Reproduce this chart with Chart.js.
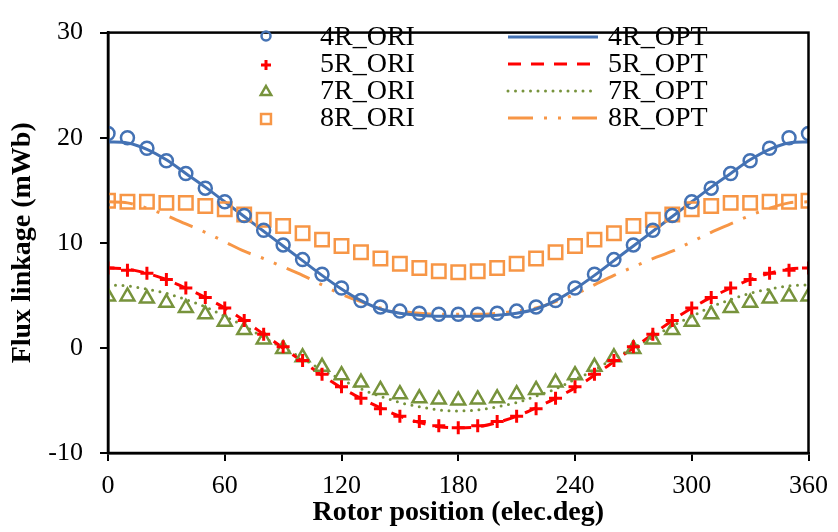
<!DOCTYPE html>
<html>
<head>
<meta charset="utf-8">
<script src="https://cdn.jsdelivr.net/npm/chart.js@4.4.1/dist/chart.umd.min.js"></script>
<style>
  body { margin: 0; background: #fff; }
  canvas { display: block; }
</style>
</head>
<body>
<canvas id="fluxChart" width="838" height="532"></canvas>
<script>
const angles = [0, 10, 20, 30, 40, 50, 60, 70, 80, 90, 100, 110, 120, 130, 140, 150, 160, 170, 180,
    190, 200, 210, 220, 230, 240, 250, 260, 270, 280, 290, 300, 310, 320, 330, 340, 350, 360];

const ori4R = [20.4, 20.0, 19.0, 17.8, 16.6, 15.2, 13.9, 12.6, 11.2, 9.8, 8.4, 7.0, 5.7, 4.5, 3.9, 3.5, 3.3, 3.2, 3.2,
    3.2, 3.3, 3.5, 3.9, 4.5, 5.7, 7.0, 8.4, 9.8, 11.2, 12.6, 13.9, 15.2, 16.6, 17.8, 19.0, 20.0, 20.4];
const opt4R = [19.6, 19.5, 18.9, 17.9, 16.6, 15.3, 13.9, 12.5, 11.1, 9.7, 8.3, 6.9, 5.6, 4.5, 3.7, 3.3, 3.1, 3.0, 3.0,
    3.0, 3.1, 3.3, 3.7, 4.5, 5.6, 6.9, 8.3, 9.7, 11.1, 12.5, 13.9, 15.3, 16.6, 17.9, 18.9, 19.5, 19.6];

const ori5R = [7.6, 7.4, 7.1, 6.5, 5.7, 4.8, 3.8, 2.6, 1.3, 0.1, -1.2, -2.5, -3.7, -4.8, -5.8, -6.5, -7.0, -7.4, -7.6,
    -7.4, -7.0, -6.5, -5.8, -4.8, -3.7, -2.5, -1.2, 0.1, 1.3, 2.6, 3.8, 4.8, 5.7, 6.5, 7.1, 7.4, 7.6];
const opt5R = [7.6, 7.5, 7.1, 6.5, 5.7, 4.8, 3.8, 2.6, 1.3, 0.0, -1.3, -2.6, -3.8, -4.8, -5.7, -6.5, -7.1, -7.5, -7.6,
    -7.5, -7.1, -6.5, -5.7, -4.8, -3.8, -2.6, -1.3, 0.0, 1.3, 2.6, 3.8, 4.8, 5.7, 6.5, 7.1, 7.5, 7.6];

const ori7R = [4.9, 4.9, 4.7, 4.3, 3.8, 3.2, 2.5, 1.7, 0.8, -0.1, -0.9, -1.8, -2.6, -3.3, -4.0, -4.4, -4.8, -4.9, -5.0,
    -4.9, -4.8, -4.4, -4.0, -3.3, -2.6, -1.8, -0.9, -0.1, 0.8, 1.7, 2.5, 3.2, 3.8, 4.3, 4.7, 4.9, 4.9];
const opt7R = [6.0, 5.9, 5.6, 5.2, 4.6, 3.9, 3.0, 2.1, 1.0, 0.0, -1.0, -2.1, -3.0, -3.9, -4.6, -5.2, -5.6, -5.9, -6.0,
    -5.9, -5.6, -5.2, -4.6, -3.9, -3.0, -2.1, -1.0, 0.0, 1.0, 2.1, 3.0, 3.9, 4.6, 5.2, 5.6, 5.9, 6.0];

const ori8R = [14.0, 13.9, 13.9, 13.8, 13.8, 13.5, 13.2, 12.7, 12.2, 11.6, 10.9, 10.3, 9.7, 9.1, 8.5, 8.0, 7.6, 7.3, 7.2,
    7.3, 7.6, 8.0, 8.5, 9.1, 9.7, 10.3, 10.9, 11.6, 12.2, 12.7, 13.2, 13.5, 13.8, 13.8, 13.9, 13.9, 14.0];
const opt8R = [13.9, 13.8, 13.3, 12.6, 11.8, 11.0, 10.1, 9.2, 8.5, 7.7, 6.9, 6.0, 5.1, 4.4, 3.8, 3.5, 3.3, 3.2, 3.2,
    3.2, 3.3, 3.5, 3.8, 4.4, 5.1, 6.0, 6.9, 7.7, 8.5, 9.2, 10.1, 11.0, 11.8, 12.6, 13.3, 13.8, 13.9];

const xTicks = [0, 60, 120, 180, 240, 300, 360];
const yTicks = [-10, 0, 10, 20, 30];

const BLUE = "#4472B4";
const RED = "#FF0000";
const GREEN = "#77933C";
const ORANGE = "#F79646";
const FONT = "'Liberation Serif', 'Times New Roman', serif";

function pts(values) {
    return angles.map((a, i) => ({ x: a, y: values[i] }));
}

function markerSet(label, values, color, style, radius, width, legendRadius) {
    return {
        label: label,
        data: pts(values),
        showLine: false,
        borderColor: color,
        backgroundColor: "rgba(0,0,0,0)",
        pointStyle: style,
        pointRadius: radius,
        pointBorderWidth: width,
        pointBorderColor: color,
        pointBackgroundColor: "rgba(0,0,0,0)",
        legendRadius: legendRadius,
        order: 1,
    };
}

function lineSet(label, values, color, dash, cap) {
    return {
        label: label,
        data: pts(values),
        borderColor: color,
        borderWidth: 3,
        borderDash: dash,
        borderCapStyle: cap || "butt",
        pointRadius: 0,
        fill: false,
        cubicInterpolationMode: "monotone",
        order: 2,
    };
}

// box frame + two-column legend inside the plot
const frameAndLegend = {
    id: "frameAndLegend",
    afterDraw(chart) {
        const ctx = chart.ctx;
        const a = chart.chartArea;
        ctx.save();
        ctx.strokeStyle = "#000";
        ctx.lineWidth = 2.5;
        ctx.strokeRect(a.left, a.top, a.right - a.left, a.bottom - a.top);

        const rows = [38, 65, 92, 119];
        const ds = chart.data.datasets;
        ctx.font = "28px " + FONT;
        ctx.fillStyle = "#000";
        ctx.textBaseline = "middle";
        ctx.textAlign = "left";

        // left column: markers
        for (let i = 0; i < 4; i++) {
            const d = ds[i];
            const y = rows[i];
            const x = 266;
            const r = d.legendRadius;
            ctx.strokeStyle = d.pointBorderColor;
            ctx.lineWidth = d.pointBorderWidth;
            ctx.setLineDash([]);
            ctx.beginPath();
            if (d.pointStyle === "circle") {
                ctx.arc(x, y - 2, r, 0, Math.PI * 2);
            } else if (d.pointStyle === "cross") {
                ctx.moveTo(x - r, y);
                ctx.lineTo(x + r, y);
                ctx.moveTo(x, y - r);
                ctx.lineTo(x, y + r);
            } else if (d.pointStyle === "triangle") {
                ctx.moveTo(x, y - r);
                ctx.lineTo(x + r * 0.866, y + r * 0.5);
                ctx.lineTo(x - r * 0.866, y + r * 0.5);
                ctx.closePath();
            } else {
                const s = r * Math.SQRT1_2;
                ctx.rect(x - s, y - s, 2 * s, 2 * s);
            }
            ctx.stroke();
            ctx.fillText(d.label, 320, y);
        }

        // right column: line samples
        for (let i = 0; i < 4; i++) {
            const d = ds[i + 4];
            const y = rows[i] - 1;
            ctx.strokeStyle = d.borderColor;
            ctx.lineWidth = d.borderWidth;
            ctx.lineCap = d.borderCapStyle;
            ctx.setLineDash(d.borderDash);
            ctx.beginPath();
            ctx.moveTo(508, y);
            ctx.lineTo(598, y);
            ctx.stroke();
            ctx.setLineDash([]);
            ctx.lineCap = "butt";
            ctx.fillText(d.label, 608, rows[i]);
        }
        ctx.restore();
    },
};

const ctx = document.getElementById("fluxChart").getContext("2d");

new Chart(ctx, {
    type: "line",
    data: {
        datasets: [
            markerSet("4R_ORI", ori4R, BLUE, "circle", 6.5, 2.5, 4.5),
            markerSet("5R_ORI", ori5R, RED, "cross", 6.5, 3, 5),
            markerSet("7R_ORI", ori7R, GREEN, "triangle", 8, 2.5, 6),
            markerSet("8R_ORI", ori8R, ORANGE, "rect", 9.5, 2.5, 7),
            lineSet("4R_OPT", opt4R, BLUE, []),
            lineSet("5R_OPT", opt5R, RED, [13, 10]),
            lineSet("7R_OPT", opt7R, GREEN, [0, 7.5], "round"),
            lineSet("8R_OPT", opt8R, ORANGE, [25, 11, 3, 11, 3, 11]),
        ],
    },
    options: {
        responsive: false,
        animation: false,
        layout: {
            padding: { left: 0, right: 22, top: 20, bottom: 0 },
        },
        plugins: {
            legend: { display: false },
            tooltip: { enabled: false },
        },
        scales: {
            x: {
                type: "linear",
                min: 0,
                max: 360,
                afterFit: (scale) => { scale.height = 79; },
                afterBuildTicks: (scale) => { scale.ticks = xTicks.map((v) => ({ value: v })); },
                border: { color: "#000", width: 2.5 },
                grid: { drawOnChartArea: false, drawTicks: true, tickLength: 8, color: "#000", lineWidth: 2 },
                ticks: { color: "#000", font: { family: FONT, size: 26 }, padding: 10, maxRotation: 0 },
                title: {
                    display: true,
                    text: "Rotor position (elec.deg)",
                    color: "#000",
                    font: { family: FONT, size: 28, weight: "bold" },
                    padding: { top: 0, bottom: 2 },
                },
            },
            y: {
                min: -10,
                max: 30,
                afterFit: (scale) => { scale.width = 108; },
                afterBuildTicks: (scale) => { scale.ticks = yTicks.map((v) => ({ value: v })); },
                border: { color: "#000", width: 2.5 },
                grid: { drawOnChartArea: false, drawTicks: true, tickLength: 8, color: "#000", lineWidth: 2 },
                ticks: { color: "#000", font: { family: FONT, size: 26 }, padding: 17 },
                title: {
                    display: true,
                    text: "Flux linkage (mWb)",
                    color: "#000",
                    font: { family: FONT, size: 28, weight: "bold" },
                    padding: { top: 6, bottom: 0 },
                },
            },
        },
    },
    plugins: [frameAndLegend],
});
</script>
</body>
</html>
